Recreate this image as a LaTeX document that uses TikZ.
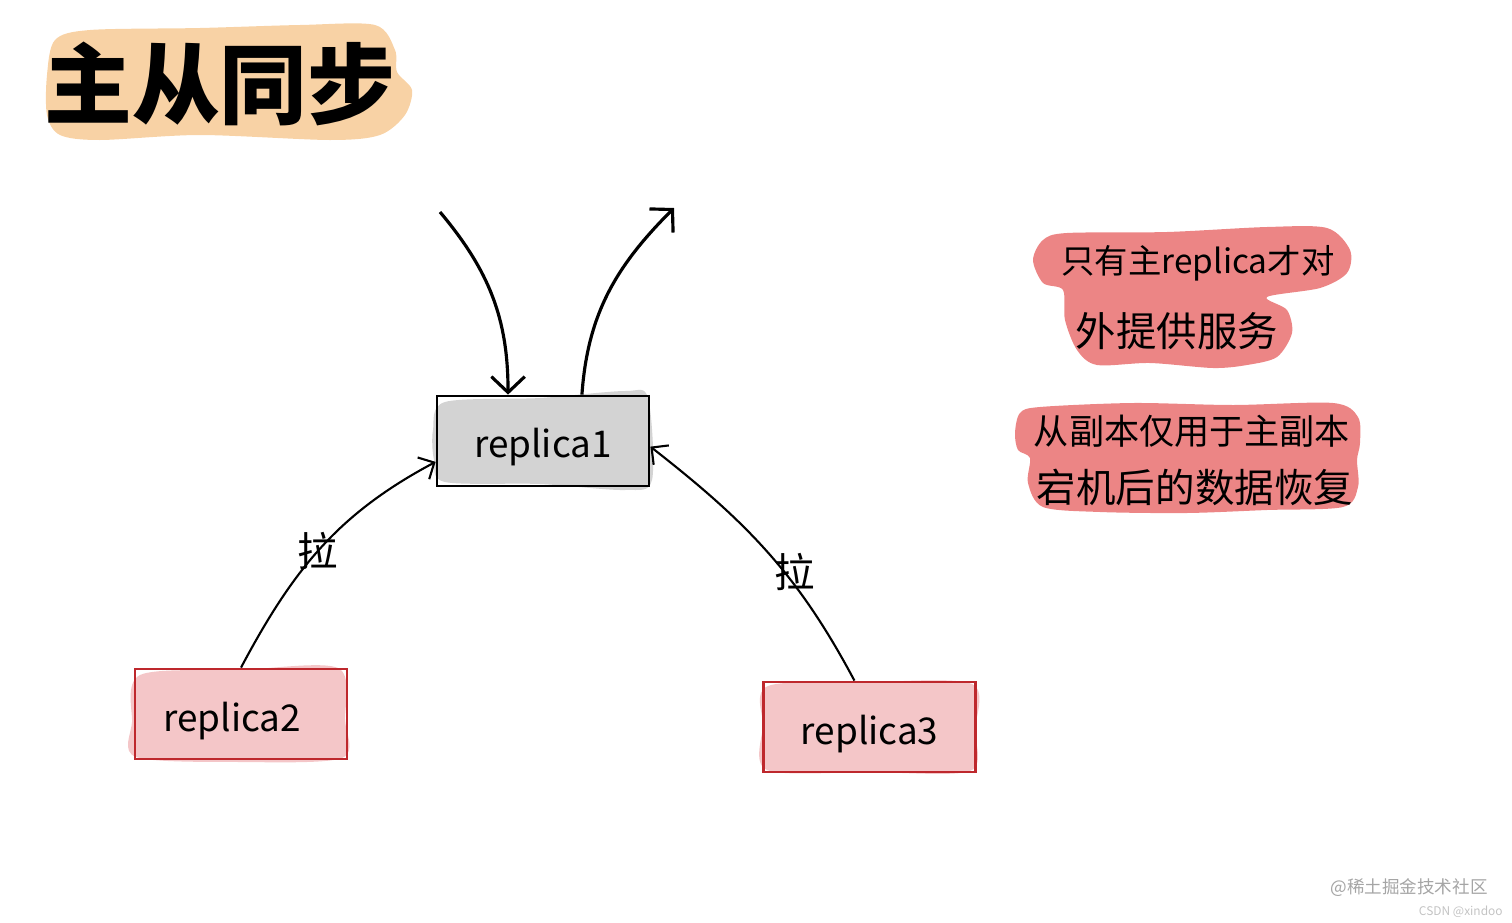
\documentclass[tikz,border=0pt]{standalone}
\usepackage{fontspec}
\usepackage{xcolor}
\setmainfont{Noto Sans CJK SC}
\usetikzlibrary{arrows.meta,positioning}
\definecolor{titleorange}{RGB}{248,210,165}
\definecolor{notered}{RGB}{236,133,133}
\definecolor{masterfill}{RGB}{211,211,211}
\definecolor{slavefill}{RGB}{244,198,200}
\definecolor{slaveline}{RGB}{190,40,45}
\definecolor{marktext}{RGB}{165,165,165}
\definecolor{csdntext}{RGB}{195,195,195}
\tikzset{
    % Define standard node styles
    replicabox/.style={
        rectangle, draw=black, line width=1.6pt,
        minimum width=4.24cm, minimum height=1.8cm,
        font=\fontsize{21}{21}\selectfont
    },
    slavebox/.style={
        replicabox, draw=slaveline
    },
    notetext/.style={
        inner sep=0pt, text=black
    },
    pulllabel/.style={
        inner sep=0pt, font=\fontsize{23}{23}\selectfont
    },
    arrow/.style={
        -{Straight Barb[length=7pt,width=14pt]}, line width=1.2pt, color=black
    },
    bigarrow/.style={
        -{Straight Barb[length=9pt,width=19pt]}, line width=1.8pt, color=black
    }
}

\begin{document}
\begin{tikzpicture}[x=0.02cm,y=-0.02cm]
\useasboundingbox (0,0) rectangle (1512,923);

% Painted backgrounds
\fill[titleorange] plot[smooth cycle] coordinates {(47,75) (55,40) (90,30) (200,28) (300,25) (375,25) (395,50) (397,72) (412,90) (405,115) (380,135) (330,140) (200,135) (100,140) (60,135) (47,115)};
\fill[notered] plot[smooth cycle] coordinates {(1033,260) (1043,240) (1067,233) (1167,232) (1267,227) (1327,228) (1350,250) (1347,273) (1320,288) (1267,297) (1287,310) (1292,333) (1277,357) (1247,365) (1213,368) (1150,363) (1097,365) (1077,350) (1065,320) (1063,290) (1043,283)};
\fill[notered] plot[smooth cycle] coordinates {(1015,433) (1020,413) (1040,407) (1133,403) (1233,405) (1333,403) (1358,417) (1360,443) (1357,460) (1358,487) (1343,507) (1267,510) (1187,513) (1100,512) (1043,507) (1028,483) (1030,458) (1018,450)};
\fill[masterfill] plot[smooth cycle] coordinates {(433,430) (445,402) (540,398) (625,391) (648,398) (652,480) (625,490) (540,484) (445,482) (434,460)};
\fill[slavefill] plot[smooth cycle] coordinates {(132,722) (140,675) (240,670) (338,668) (345,720) (342,758) (240,762) (136,757)};
\fill[slavefill] plot[smooth cycle] coordinates {(763,725) (768,686) (870,682) (972,684) (975,730) (970,771) (870,772) (767,770)};

% Title and notes
\node[notetext, font=\fontsize{50}{50}\selectfont\bfseries] (title) at (220,84) {主从同步};
\node[notetext, font=\fontsize{19}{19}\selectfont] (note_one) at (1198,263) {只有主replica才对};
\node[notetext, font=\fontsize{23}{23}\selectfont] (note_two) at (1177,331) {外提供服务};
\node[notetext, font=\fontsize{20}{20}\selectfont] (note_three) at (1192,431) {从副本仅用于主副本};
\node[notetext, font=\fontsize{22.5}{22.5}\selectfont] (note_four) at (1195,487) {宕机后的数据恢复};

% Replicas
\node[replicabox] (replica_one) at (543,441) {\raisebox{-9.5pt}[0pt][0pt]{replica1}};
\node[slavebox] (replica_two) at (241,714) {\raisebox{-10pt}[0pt][0pt]{replica2\hspace{10pt}}};
\node[slavebox] (replica_three) at (869.5,727) {\raisebox{-10pt}[0pt][0pt]{replica3}};

% Free ends
\coordinate (client_in) at (440,212);
\coordinate (client_out) at (674,208);

% Arrows
\draw[bigarrow] (client_in) to[out=-50,in=90] (replica_one.127);
\draw[bigarrow] (replica_one.50) to[out=86,in=225] (client_out);
\draw[arrow] (replica_two.north) to[out=62,in=208] node[pulllabel, pos=.43, xshift=.18cm, yshift=.22cm] (pull_two) {拉} (replica_one.191);
\draw[arrow] (replica_three.108) to[out=118,in=-38] node[pulllabel, pos=.42, xshift=.26cm, yshift=-.06cm] (pull_three) {拉} (replica_one.357);

% Watermarks
\node[inner sep=0pt, text=marktext, font=\fontsize{10}{10}\selectfont, anchor=east] (juejin) at (1488,888) {@稀土掘金技术社区};
\node[inner sep=0pt, text=csdntext, font=\fontsize{6.8}{6.8}\selectfont, anchor=east] (csdn) at (1503,912) {CSDN @xindoo};

\end{tikzpicture}
\end{document}
